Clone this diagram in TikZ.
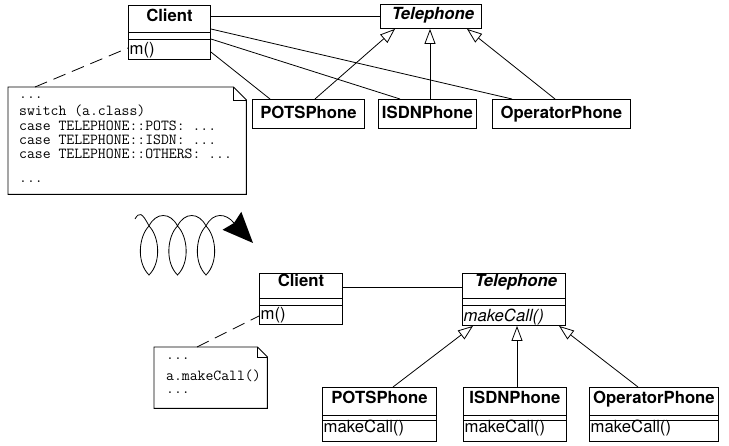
\documentclass[tikz,border=0pt]{standalone}
\usepackage{fontspec}
\newfontfamily\hv{TeX Gyre Heros}
\usetikzlibrary{arrows.meta}
\begin{document}
\begin{tikzpicture}[x=1pt,y=-1pt,
  umlbox/.style={draw, line width=0.9pt, inner sep=0pt, anchor=north west, fill=white},
  notebox/.style={inner sep=0pt, anchor=north west},
  clsname/.style={inner sep=0pt, anchor=base, font={\hv\bfseries\fontsize{16.7}{20}\selectfont}},
  absname/.style={inner sep=0pt, anchor=base, font={\hv\bfseries\itshape\fontsize{16.7}{20}\selectfont}},
  opname/.style={inner sep=0pt, anchor=base west, font={\hv\fontsize{16.7}{20}\selectfont}},
  absop/.style={inner sep=0pt, anchor=base west, font={\hv\itshape\fontsize{16.7}{20}\selectfont}},
  codeline/.style={inner sep=0pt, anchor=base west, font={\ttfamily\fontsize{15.3}{16}\selectfont}},
  thin/.style={line width=0.8pt},
  assoc/.style={thin},
  inherit/.style={thin, -{Triangle[open, length=15pt, width=11pt]}},
  depend/.style={thin, dash pattern=on 13pt off 7pt},
  notepath/.style={line width=0.9pt, fill=white}
]
\path[fill=white] (0,0) rectangle (729,446);
\useasboundingbox (0,0) rectangle (729,446);

% ---------- TOP ----------
\node[umlbox, minimum width=82pt, minimum height=54pt] (c1) at (128,5) {};
\draw[thin] ([yshift=-27pt]c1.north west) -- ([yshift=-27pt]c1.north east);
\draw[thin] ([yshift=-34pt]c1.north west) -- ([yshift=-34pt]c1.north east);
\node[clsname] (c1n) at ([yshift=-17pt]c1.north) {Client};
\node[opname] (c1m) at ([xshift=1.5pt,yshift=-50pt]c1.north west) {m()};

\node[umlbox, minimum width=101pt, minimum height=24pt] (t1) at (380,4) {};
\node[absname] (t1n) at ([xshift=2pt,yshift=-16pt]t1.north) {Telephone};

\node[umlbox, minimum width=112pt, minimum height=29pt] (po1) at (252,99) {};
\node[clsname] (po1n) at ([yshift=-20pt]po1.north) {POTSPhone};
\node[umlbox, minimum width=98pt, minimum height=29pt] (is1) at (378,99) {};
\node[clsname] (is1n) at ([yshift=-20pt]is1.north) {ISDNPhone};
\node[umlbox, minimum width=138pt, minimum height=29pt] (op1) at (492,99) {};
\node[clsname] (op1n) at ([yshift=-20pt]op1.north) {OperatorPhone};

\node[notebox, minimum width=238pt, minimum height=107pt] (n1) at (8,87) {};
\draw[notepath] (n1.north west) -- ([xshift=-13pt]n1.north east) -- ([yshift=-13pt]n1.north east) -- (n1.south east) -- (n1.south west) -- cycle;
\draw[thin] ([xshift=-13pt]n1.north east) -- ([xshift=-13pt,yshift=-13pt]n1.north east) -- ([yshift=-13pt]n1.north east);
\node[codeline] (n1a) at (19,99) {...};
\node[codeline] (n1b) at (19,115.5) {switch (a.class)};
\node[codeline] (n1c) at (19,130.5) {case TELEPHONE::POTS: ...};
\node[codeline] (n1d) at (19,145) {case TELEPHONE::ISDN: ...};
\node[codeline] (n1e) at (19,159) {case TELEPHONE::OTHERS: ...};
\node[codeline] (n1f) at (19,183) {...};

\draw[assoc] (t1.west -| c1.east) -- (t1.west);
\draw[assoc] ([yshift=-24pt]c1.north east) -- ([xshift=20pt]op1.north west);
\draw[assoc] ([yshift=-34pt]c1.north east) -- ([xshift=22pt]is1.north west);
\draw[assoc] ([yshift=-47pt]c1.north east) -- ([xshift=18pt]po1.north west);
\draw[inherit] ([xshift=63pt]po1.north west) -- ([xshift=15pt]t1.south west);
\draw[inherit] ([xshift=52pt]is1.north west) -- ([xshift=50pt]t1.south west);
\draw[inherit] ([xshift=63pt]op1.north west) -- ([xshift=87pt]t1.south west);
\draw[depend] ([xshift=27pt]n1.north west) -- ([yshift=-43pt]c1.north west);

% ---------- COIL ARROW ----------
\draw[thin] (135,219) .. controls (139,212) and (142,212) .. (149,226)
  .. controls (159,236) and (162,262) .. (149,275)
  .. controls (136,262) and (139,236) .. (149,226)
  .. controls (156,212) and (170.5,212) .. (177.5,226)
  .. controls (187.5,236) and (190.5,262) .. (177.5,275)
  .. controls (164.5,262) and (167.5,236) .. (177.5,226)
  .. controls (184.5,212) and (199,212) .. (206,226)
  .. controls (216,236) and (219,262) .. (206,275)
  .. controls (193,262) and (196,236) .. (206,226)
  .. controls (213,212) and (226,213) .. (234,223);
\fill[black] (222.5,229.8) -- (253,243) -- (241.3,211.8) -- (234,223) -- cycle;

% ---------- BOTTOM ----------
\node[umlbox, minimum width=83pt, minimum height=51pt] (c2) at (259,273) {};
\draw[thin] ([yshift=-25pt]c2.north west) -- ([yshift=-25pt]c2.north east);
\draw[thin] ([yshift=-32pt]c2.north west) -- ([yshift=-32pt]c2.north east);
\node[clsname] (c2n) at ([yshift=-14pt]c2.north) {Client};
\node[opname] (c2m) at ([xshift=1.5pt,yshift=-47pt]c2.north west) {m()};

\node[umlbox, minimum width=103pt, minimum height=52pt] (t2) at (462,273) {};
\draw[thin] ([yshift=-25pt]t2.north west) -- ([yshift=-25pt]t2.north east);
\draw[thin] ([yshift=-32pt]t2.north west) -- ([yshift=-32pt]t2.north east);
\node[absname] (t2n) at ([xshift=2pt,yshift=-14pt]t2.north) {Telephone};
\node[absop] (t2m) at ([xshift=1.5pt,yshift=-48.5pt]t2.north west) {makeCall()};

\node[umlbox, minimum width=114pt, minimum height=54pt] (po2) at (322,387) {};
\node[umlbox, minimum width=103pt, minimum height=54pt] (is2) at (463,387) {};
\node[umlbox, minimum width=129pt, minimum height=54pt] (op2) at (589,387) {};
\foreach \b in {po2,is2,op2}{
  \draw[thin] ([yshift=-28pt]\b.north west) -- ([yshift=-28pt]\b.north east);
  \draw[thin] ([yshift=-33pt]\b.north west) -- ([yshift=-33pt]\b.north east);
}
\node[clsname] (po2n) at ([yshift=-17pt]po2.north) {POTSPhone};
\node[clsname] (is2n) at ([yshift=-17pt]is2.north) {ISDNPhone};
\node[clsname] (op2n) at ([yshift=-17pt]op2.north) {OperatorPhone};
\node[opname] (po2m) at ([xshift=1.5pt,yshift=-46pt]po2.north west) {makeCall()};
\node[opname] (is2m) at ([xshift=1.5pt,yshift=-46pt]is2.north west) {makeCall()};
\node[opname] (op2m) at ([xshift=1.5pt,yshift=-46pt]op2.north west) {makeCall()};

\node[notebox, minimum width=113pt, minimum height=61pt] (n2) at (154,347) {};
\draw[notepath] (n2.north west) -- ([xshift=-10pt]n2.north east) -- ([yshift=-10pt]n2.north east) -- (n2.south east) -- (n2.south west) -- cycle;
\draw[thin] ([xshift=-10pt]n2.north east) -- ([xshift=-10pt,yshift=-10pt]n2.north east) -- ([yshift=-10pt]n2.north east);
\node[codeline] (n2a) at (166,360) {...};
\node[codeline] (n2b) at (166,380.5) {a.makeCall()};
\node[codeline] (n2c) at (166,394) {...};

\draw[assoc] ([yshift=-14pt]c2.north east) -- ([yshift=-14pt]t2.north west);
\draw[depend] ([xshift=43pt]n2.north west) -- ([yshift=-43pt]c2.north west);
\draw[inherit] ([xshift=71pt]po2.north west) -- ([xshift=11pt]t2.south west);
\draw[inherit] ([xshift=54pt]is2.north west) -- ([xshift=55pt]t2.south west);
\draw[inherit] ([xshift=49pt]op2.north west) -- ([xshift=97pt]t2.south west);
\end{tikzpicture}
\end{document}
